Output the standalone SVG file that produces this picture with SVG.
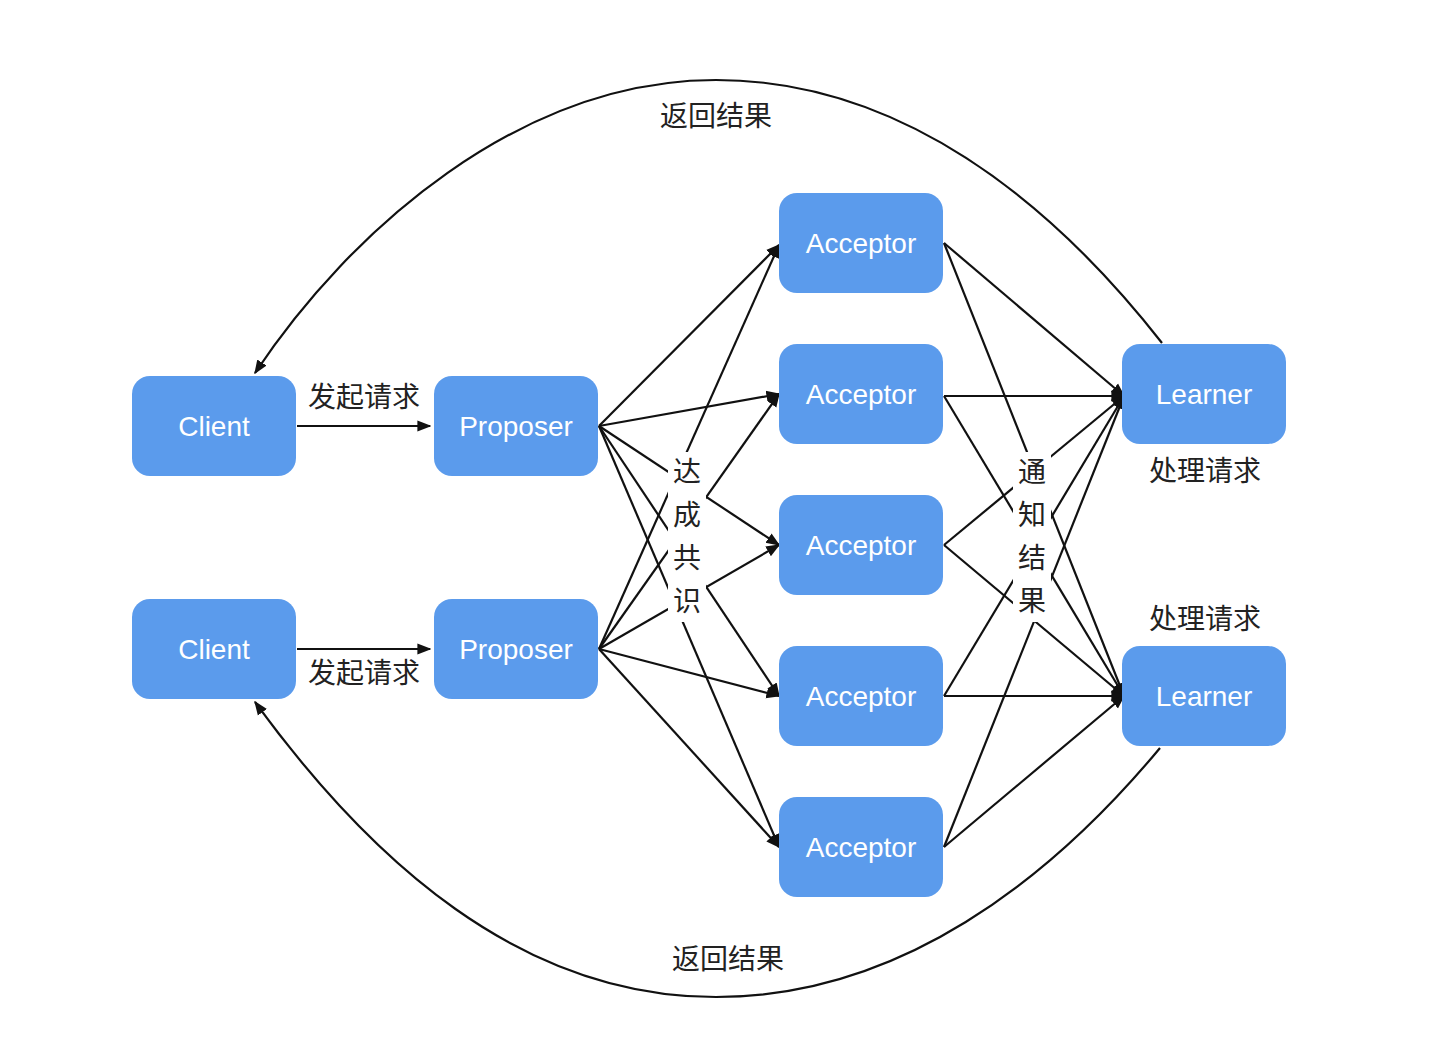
<svg xmlns="http://www.w3.org/2000/svg" width="1438" height="1044" viewBox="0 0 1438 1044">
<style>
.n rect{fill:#5B9BEC}
.n text{fill:#fff;font-family:"Liberation Sans","Noto Sans",sans-serif;font-size:28px;text-anchor:middle}
.l{font-family:"Noto Sans CJK SC",sans-serif;font-size:28px;fill:#222;text-anchor:middle}
.e path,.e line{stroke:#111;stroke-width:2.2;fill:none}
</style>
<defs><marker id="a" viewBox="0 0 10 10" refX="9" refY="5" markerWidth="7" markerHeight="7" orient="auto" markerUnits="userSpaceOnUse"><path d="M0,0L10,5L0,10z" fill="#111"/></marker>
<marker id="b" viewBox="0 0 10 10" refX="9" refY="5" markerWidth="14" markerHeight="14" orient="auto" markerUnits="userSpaceOnUse"><path d="M0,1L10,5L0,9z" fill="#111"/></marker></defs>
<rect width="1438" height="1044" fill="#fff"/>
<g class="e" marker-end="url(#b)">
<line x1="297" y1="426" x2="430" y2="426"/>
<line x1="297" y1="649" x2="430" y2="649"/>
<line x1="599" y1="426" x2="779" y2="245"/>
<line x1="599" y1="426" x2="779" y2="394"/>
<line x1="599" y1="426" x2="779" y2="545"/>
<line x1="599" y1="426" x2="779" y2="696"/>
<line x1="599" y1="426" x2="779" y2="847"/>
<line x1="599" y1="649" x2="779" y2="245"/>
<line x1="599" y1="649" x2="779" y2="394"/>
<line x1="599" y1="649" x2="779" y2="545"/>
<line x1="599" y1="649" x2="779" y2="696"/>
<line x1="599" y1="649" x2="779" y2="847"/>
<line x1="944" y1="243" x2="1124" y2="396"/>
<line x1="944" y1="243" x2="1124" y2="696"/>
<line x1="944" y1="396" x2="1124" y2="396"/>
<line x1="944" y1="396" x2="1124" y2="696"/>
<line x1="944" y1="545" x2="1124" y2="396"/>
<line x1="944" y1="545" x2="1124" y2="696"/>
<line x1="944" y1="696" x2="1124" y2="396"/>
<line x1="944" y1="696" x2="1124" y2="696"/>
<line x1="944" y1="847" x2="1124" y2="396"/>
<line x1="944" y1="847" x2="1124" y2="696"/>
<path d="M1162,343 C1050,200 900,80 716,80 C520,80 350,230 255,373"/>
<path d="M1160,748 C1050,880 900,997 716,997 C520,997 370,860 255,702"/>
</g>
<g fill="#fff">
<rect x="668" y="452" width="38" height="170"/>
<rect x="1013" y="452" width="38" height="170"/>
<rect x="650" y="92" width="132" height="46"/>
<rect x="662" y="935" width="132" height="46"/>
</g>
<g class="l">
<text x="364" y="407">发起请求</text><text x="364" y="683">发起请求</text>
<text x="1205" y="481">处理请求</text><text x="1205" y="629">处理请求</text>
<text x="716" y="126">返回结果</text><text x="728" y="969">返回结果</text>
<text x="687" y="482">达</text><text x="687" y="525">成</text><text x="687" y="568">共</text><text x="687" y="611">识</text>
<text x="1032" y="482">通</text><text x="1032" y="525">知</text><text x="1032" y="568">结</text><text x="1032" y="611">果</text>
</g>
<g id="client1" class="n"><rect x="132" y="376" width="164" height="100" rx="18"/><text x="214" y="436">Client</text></g>
<g id="client2" class="n"><rect x="132" y="599" width="164" height="100" rx="18"/><text x="214" y="659">Client</text></g>
<g id="proposer1" class="n"><rect x="434" y="376" width="164" height="100" rx="18"/><text x="516" y="436">Proposer</text></g>
<g id="proposer2" class="n"><rect x="434" y="599" width="164" height="100" rx="18"/><text x="516" y="659">Proposer</text></g>
<g id="acceptor1" class="n"><rect x="779" y="193" width="164" height="100" rx="18"/><text x="861" y="253">Acceptor</text></g>
<g id="acceptor2" class="n"><rect x="779" y="344" width="164" height="100" rx="18"/><text x="861" y="404">Acceptor</text></g>
<g id="acceptor3" class="n"><rect x="779" y="495" width="164" height="100" rx="18"/><text x="861" y="555">Acceptor</text></g>
<g id="acceptor4" class="n"><rect x="779" y="646" width="164" height="100" rx="18"/><text x="861" y="706">Acceptor</text></g>
<g id="acceptor5" class="n"><rect x="779" y="797" width="164" height="100" rx="18"/><text x="861" y="857">Acceptor</text></g>
<g id="learner1" class="n"><rect x="1122" y="344" width="164" height="100" rx="18"/><text x="1204" y="404">Learner</text></g>
<g id="learner2" class="n"><rect x="1122" y="646" width="164" height="100" rx="18"/><text x="1204" y="706">Learner</text></g>
</svg>
